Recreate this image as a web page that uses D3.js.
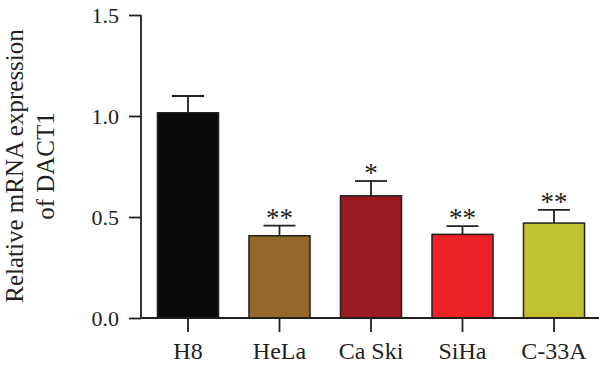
<!DOCTYPE html>
<html><head><meta charset="utf-8">
<script src="https://cdn.jsdelivr.net/npm/d3@7"></script>
<style>body{margin:0;background:#fff}svg{display:block}text{font-family:"Liberation Serif","DejaVu Serif",serif;fill:#231f20}</style>
</head><body>
<svg id="c" width="600" height="371"></svg>
<script>
const categories = ["H8", "HeLa", "Ca Ski", "SiHa", "C-33A"];
const values = [1.016, 0.407, 0.605, 0.414, 0.470];
const errors = [0.083, 0.050, 0.073, 0.041, 0.065];
const stars = ["", "**", "*", "**", "**"];
const colors = ["#0a0a0c", "#94672a", "#9b1c20", "#ed2126", "#c1c033"];
const yTicks = [0.0, 0.5, 1.0, 1.5];

const svg = d3.select("#c");
const x = d3.scaleBand().domain(categories).range([141, 601]).paddingInner(0.333).paddingOuter(0.18);
const y = d3.scaleLinear().domain([0, 1.5]).range([318, 15]);
const ink = "#231f20";

// bars
svg.selectAll("rect.bar").data(categories).join("rect")
  .attr("x", d => x(d)).attr("width", x.bandwidth())
  .attr("y", (d,i) => y(values[i])).attr("height", (d,i) => y(0) - y(values[i]))
  .attr("fill", (d,i) => colors[i]).attr("stroke", ink).attr("stroke-width", 1.5);

// error bars
const g = svg.append("g").attr("stroke", ink).attr("stroke-width", 1.8);
categories.forEach((c,i) => {
  const cx = x(c) + x.bandwidth()/2;
  g.append("line").attr("x1", cx).attr("x2", cx).attr("y1", y(values[i])).attr("y2", y(values[i]+errors[i]));
  g.append("line").attr("x1", cx-16).attr("x2", cx+16).attr("y1", y(values[i]+errors[i])).attr("y2", y(values[i]+errors[i]));
  if (stars[i]) svg.append("text").attr("x", cx).attr("y", y(values[i]+errors[i]) + 1)
    .attr("text-anchor", "middle").attr("font-size", 27).attr("fill", "#333").text(stars[i]);
});

// y axis
const ya = svg.append("g").attr("transform", "translate(141,0)")
  .call(d3.axisLeft(y).tickValues(yTicks).tickFormat(d3.format(".1f")).tickSize(12).tickPadding(10));
ya.select(".domain").attr("d", `M0,${y(1.5)}V${y(0)}`);
// x axis
const xa = svg.append("g").attr("transform", "translate(0,318)")
  .call(d3.axisBottom(x).tickSize(14).tickPadding(10));
xa.select(".domain").attr("d", "M141,0H599");
svg.selectAll(".domain, .tick line").attr("stroke", ink).attr("stroke-width", 1.8);
ya.selectAll(".tick text").attr("font-size", 22).attr("fill", ink).style("font-family", '"Liberation Serif",serif');
xa.selectAll(".tick text").attr("font-size", 24).attr("fill", ink).style("font-family", '"Liberation Serif",serif');

// title
const t = svg.append("text").attr("transform", "translate(0,166) rotate(-90)")
  .attr("text-anchor", "middle").attr("font-size", 25);
t.append("tspan").attr("x", 0).attr("y", 23).text("Relative mRNA expression");
t.append("tspan").attr("x", 0).attr("y", 54).text("of DACT1");
</script>
</body></html>
